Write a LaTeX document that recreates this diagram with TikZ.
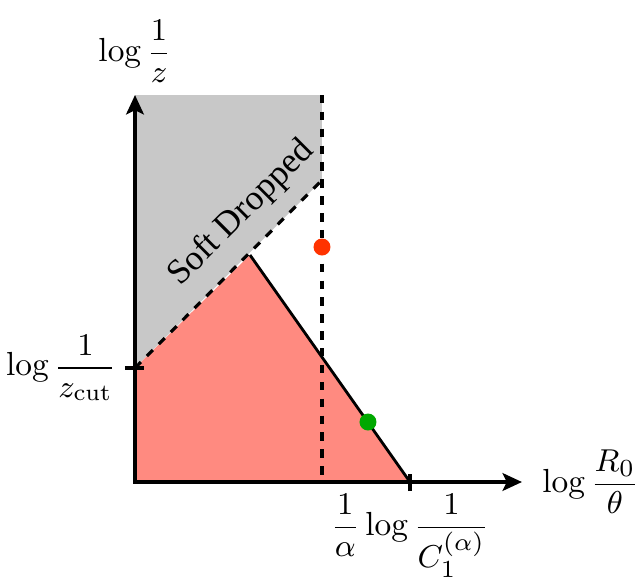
\documentclass[tikz,border=0pt]{standalone}
\usepackage{amsmath}
\usepackage{fontspec}
\newfontfamily\sdfont{Liberation Serif}
\usetikzlibrary{arrows.meta,positioning,calc}
\definecolor{sdred}{HTML}{FF8A80}
\definecolor{sdgray}{HTML}{C8C8C8}
\definecolor{dotred}{HTML}{FF3300}
\definecolor{dotgreen}{HTML}{00A800}

\begin{document}
\begin{tikzpicture}[>={Stealth[length=5.5pt,width=5pt,inset=1.2pt]},
  every node/.style={font=\fontsize{9.5pt}{11pt}\selectfont},
  axis/.style={line width=1.2pt},
  cutline/.style={line width=0.9pt, dash pattern=on 2.4pt off 2.4pt},
  tickmark/.style={line width=1.2pt},
  marker/.style={circle, inner sep=0pt, minimum size=0.17cm}]
\useasboundingbox (0,0) rectangle (6.4,5.79);
% key points
\coordinate (O) at (1.35,0.97);
\coordinate (ytop) at (1.35,4.84);
\coordinate (xend) at (5.22,0.97);
\coordinate (zc) at (1.35,2.11);
\coordinate (peak) at (2.50,3.24);
\coordinate (bend) at (3.22,3.99);
\coordinate (vtop) at (3.22,4.84);
\coordinate (vbot) at (3.22,0.97);
\coordinate (xc) at (4.10,0.97);
% regions
\fill[sdgray] (ytop) -- (vtop) -- (bend) -- (zc) -- cycle;
\fill[sdred] (O) -- (zc) -- (peak) -- (xc) -- cycle;
% boundaries
\draw[line width=0.8pt] (peak) -- (xc);
\draw[cutline] (zc) -- (bend);
\draw[cutline] (vtop) -- (vbot);
\node[rotate=45, font=\sdfont\fontsize{10pt}{12pt}\selectfont] (sdlab) at (2.415,3.655) {Soft Dropped};
% axes
\draw[axis,<->] (ytop) -- (O) -- (xend);
\node[above] (ylab) at (ytop) {$\displaystyle\log\frac{1}{z}$};
\node[right, xshift=0.08cm] (xlab) at (xend) {$\displaystyle\log\frac{R_0}{\theta}$};
% ticks
\draw[tickmark] ($(zc)+(-0.1,0)$) -- ($(zc)+(0.09,0)$);
\node[left, xshift=0.04cm] (zclab) at ($(zc)+(-0.1,0)$) {$\displaystyle\log\frac{1}{z_{\text{cut}}}$};
\draw[tickmark] ($(xc)+(0,-0.09)$) -- ($(xc)+(0,0.08)$);
\node[below] (xclab) at (xc) {$\displaystyle\frac{1}{\alpha}\log\frac{1}{C_1^{(\alpha)}}$};
% points
\node[marker, fill=dotred] (reddot) at (3.22,3.32) {};
\node[marker, fill=dotgreen] (greendot) at (3.68,1.57) {};
\end{tikzpicture}
\end{document}
